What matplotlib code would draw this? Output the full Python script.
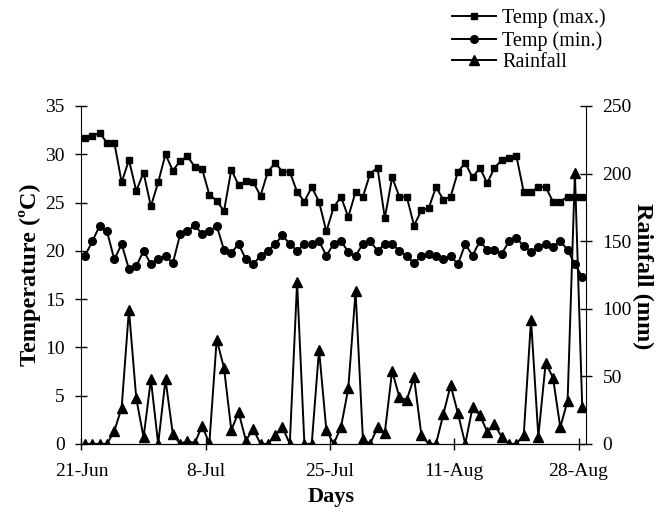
import matplotlib
matplotlib.use('Agg')
import matplotlib.pyplot as plt

plt.rcParams['font.family'] = ['Liberation Serif', 'DejaVu Serif']

# daily values 21-Jun .. 28-Aug
temp_max = [31.7, 31.9, 32.2, 31.2, 31.2, 27.1, 29.4, 26.2, 28.1, 24.6,
            27.1, 30.0, 28.3, 29.3, 29.8, 28.7, 28.5, 25.8, 25.2, 24.1,
            28.4, 26.8, 27.2, 27.1, 25.7, 28.2, 29.1, 28.2, 28.2, 26.1,
            25.1, 26.6, 25.1, 22.0, 24.5, 25.6, 23.5, 26.1, 25.6, 28.0,
            28.6, 23.4, 27.6, 25.6, 25.6, 22.6, 24.2, 24.4, 26.6, 25.3,
            25.6, 28.2, 29.1, 27.6, 28.6, 27.0, 28.6, 29.4, 29.6, 29.8,
            26.1, 26.1, 26.6, 26.6, 25.1, 25.1, 25.6, 25.6, 25.6]
temp_min = [19.5, 21.0, 22.6, 22.0, 19.1, 20.7, 18.1, 18.4, 20.0, 18.6,
            19.1, 19.5, 18.7, 21.7, 22.0, 22.7, 21.7, 22.0, 22.6, 20.1,
            19.8, 20.7, 19.1, 18.6, 19.5, 20.0, 20.7, 21.6, 20.7, 20.0,
            20.7, 20.7, 21.0, 19.5, 20.7, 21.0, 19.9, 19.5, 20.7, 21.0,
            20.0, 20.7, 20.7, 20.0, 19.5, 18.7, 19.5, 19.7, 19.5, 19.1,
            19.5, 18.6, 20.7, 19.5, 21.0, 20.1, 20.1, 19.7, 21.0, 21.3,
            20.5, 19.9, 20.4, 20.7, 20.4, 21.0, 20.1, 18.6, 17.3]
rainfall = [0, 0, 0, 0, 9.6, 26.7, 99.3, 33.6, 4.9, 47.7,
            0, 47.7, 7.4, 0, 2.2, 0.5, 13.3, 0.5, 77.2, 56.4,
            10.3, 23.3, 2.5, 10.9, 0, 0, 6.6, 12.3, 0, 119.5,
            0, 0, 69.8, 10.3, 0, 12.3, 41.0, 112.9, 3.5, 0,
            12.3, 8.3, 54.0, 34.4, 32.5, 49.2, 6.6, 0, 0, 21.8,
            43.4, 22.6, 0, 27.0, 21.4, 9.0, 14.7, 4.9, 0, 0,
            6.6, 91.8, 5.4, 59.9, 49.1, 12.3, 31.9, 200.5, 27.5]
date_labels = ['21-Jun', '8-Jul', '25-Jul', '11-Aug', '28-Aug']

days = list(range(len(temp_max)))

fig = plt.figure(figsize=(6.62, 5.12), dpi=100)
ax = fig.add_axes([0.123, 0.133, 0.762, 0.66])
ax2 = ax.twinx()

l1, = ax.plot(days, temp_max, 'k-', marker='s', markersize=5, lw=1.4, label='Temp (max.)')
l2, = ax.plot(days, temp_min, 'k-', marker='o', markersize=5.5, lw=1.4, label='Temp (min.)')
l3, = ax2.plot(days, rainfall, 'k-', marker='^', markersize=6.5, lw=1.4, label='Rainfall')

ax.set_xlim(-0.5, len(days) - 0.5)
ax.set_ylim(0, 35)
ax2.set_ylim(0, 250)
ax.set_yticks(range(0, 36, 5))
ax2.set_yticks(range(0, 251, 50))
ax.set_xticks([17 * i - 0.5 for i in range(5)])
ax.set_xticklabels(date_labels)

for a in (ax, ax2):
    a.spines['top'].set_visible(False)
    a.tick_params(direction='inout', length=9, width=1, labelsize=14, colors='black', pad=7.5)
ax2.spines['left'].set_visible(False)
ax.spines['right'].set_visible(False)
ax.tick_params(axis='x', pad=9)

# axis titles
fig.text(30 / 662, 1 - 275 / 512, 'Temperature (ºC)', fontsize=17.5, fontweight='bold',
         rotation=90, ha='center', va='center')
fig.text(643 / 662, 1 - 276 / 512, 'Rainfall (mm)', fontsize=17.5, fontweight='bold',
         rotation=270, ha='center', va='center')
fig.text(331 / 662, 1 - 497 / 512, 'Days', fontsize=16, fontweight='bold',
         ha='center', va='center')

fig.legend(handles=[l1, l2, l3], loc='upper left', bbox_to_anchor=(0.683, 0.983),
           frameon=False, fontsize=14.5, handlelength=2.2, handletextpad=0.3,
           labelspacing=0.12, borderaxespad=0, borderpad=0)

fig.savefig('out.png', dpi=100)
